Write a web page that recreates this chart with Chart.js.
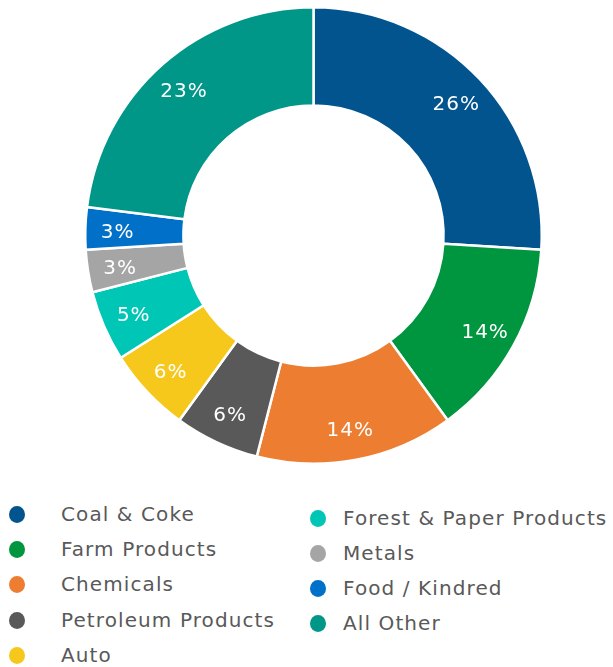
<!DOCTYPE html>
<html>
<head>
<meta charset="utf-8">
<script src="https://cdn.jsdelivr.net/npm/chart.js@4.4.0/dist/chart.umd.min.js"></script>
<style>
    body { margin: 0; background: #ffffff; font-family: "DejaVu Sans", Verdana, sans-serif; }
    #wrap { position: relative; width: 613px; height: 667px; overflow: hidden; }
    #chartBox { position: absolute; left: 0; top: 0; width: 613px; height: 466px; }
    .legend-item { position: absolute; font-size: 20px; letter-spacing: 1.1px; color: #595959; white-space: nowrap; line-height: 24px; }
    .legend-dot { position: absolute; width: 16px; height: 17px; border-radius: 50%; }
</style>
</head>
<body>
<div id="wrap">
    <div id="chartBox"><canvas id="freightChart"></canvas></div>
    <div id="legend"></div>
</div>

<script>
// Carload share by commodity group (percent)
const categories = [
    "Coal & Coke",
    "Farm Products",
    "Chemicals",
    "Petroleum Products",
    "Auto",
    "Forest & Paper Products",
    "Metals",
    "Food / Kindred",
    "All Other"
];

const shares = [26, 14, 14, 6, 6, 5, 3, 3, 23];

const sliceColors = [
    "#02548F",
    "#009640",
    "#ED7D31",
    "#595959",
    "#F6C81C",
    "#00C6B6",
    "#A5A5A5",
    "#0070C8",
    "#009688"
];

// percent text inside each slice
const percentLabels = {
    id: 'percentLabels',
    afterDatasetsDraw(chart) {
        const { ctx } = chart;
        const ds = chart.data.datasets[0];
        chart.getDatasetMeta(0).data.forEach((arc, i) => {
            const p = arc.getProps(['x', 'y', 'startAngle', 'endAngle', 'innerRadius', 'outerRadius']);
            const mid = (p.startAngle + p.endAngle) / 2;
            const r = p.innerRadius + (p.outerRadius - p.innerRadius) * 0.67;
            ctx.save();
            ctx.fillStyle = "#ffffff";
            ctx.font = "20px 'DejaVu Sans'";
            ctx.letterSpacing = "1px";
            ctx.textAlign = "center";
            ctx.textBaseline = "middle";
            ctx.fillText(ds.data[i] + "%", p.x + r * Math.cos(mid), p.y + r * Math.sin(mid) + 3);
            ctx.restore();
        });
    }
};

const ctx = document.getElementById("freightChart");

new Chart(ctx, {
    type: "doughnut",
    data: {
        labels: categories,
        datasets: [{
            data: shares,
            backgroundColor: sliceColors,
            borderColor: "#ffffff",
            borderWidth: 2.5
        }]
    },
    options: {
        responsive: true,
        maintainAspectRatio: false,
        animation: false,
        cutout: "57%",
        layout: { padding: { top: 6, bottom: 1, left: 14, right: 0 } },
        plugins: {
            legend: { display: false },
            tooltip: { enabled: false }
        }
    },
    plugins: [percentLabels]
});

// two-column legend below the ring
const legend = document.getElementById("legend");
categories.forEach((name, i) => {
    const col = i < 5 ? 0 : 1;
    const row = col === 0 ? i : i - 5;
    const cy = col === 0 ? 514 + row * 35.2 : 518 + row * 35;
    const dotX = col === 0 ? 17 : 318;
    const textX = col === 0 ? 61 : 343;

    const dot = document.createElement("div");
    dot.className = "legend-dot";
    dot.style.left = (dotX - 8) + "px";
    dot.style.top = (cy - 8) + "px";
    dot.style.background = sliceColors[i];
    legend.appendChild(dot);

    const item = document.createElement("div");
    item.className = "legend-item";
    item.style.left = textX + "px";
    item.style.top = (cy - 12) + "px";
    item.textContent = name;
    legend.appendChild(item);
});
</script>
</body>
</html>
